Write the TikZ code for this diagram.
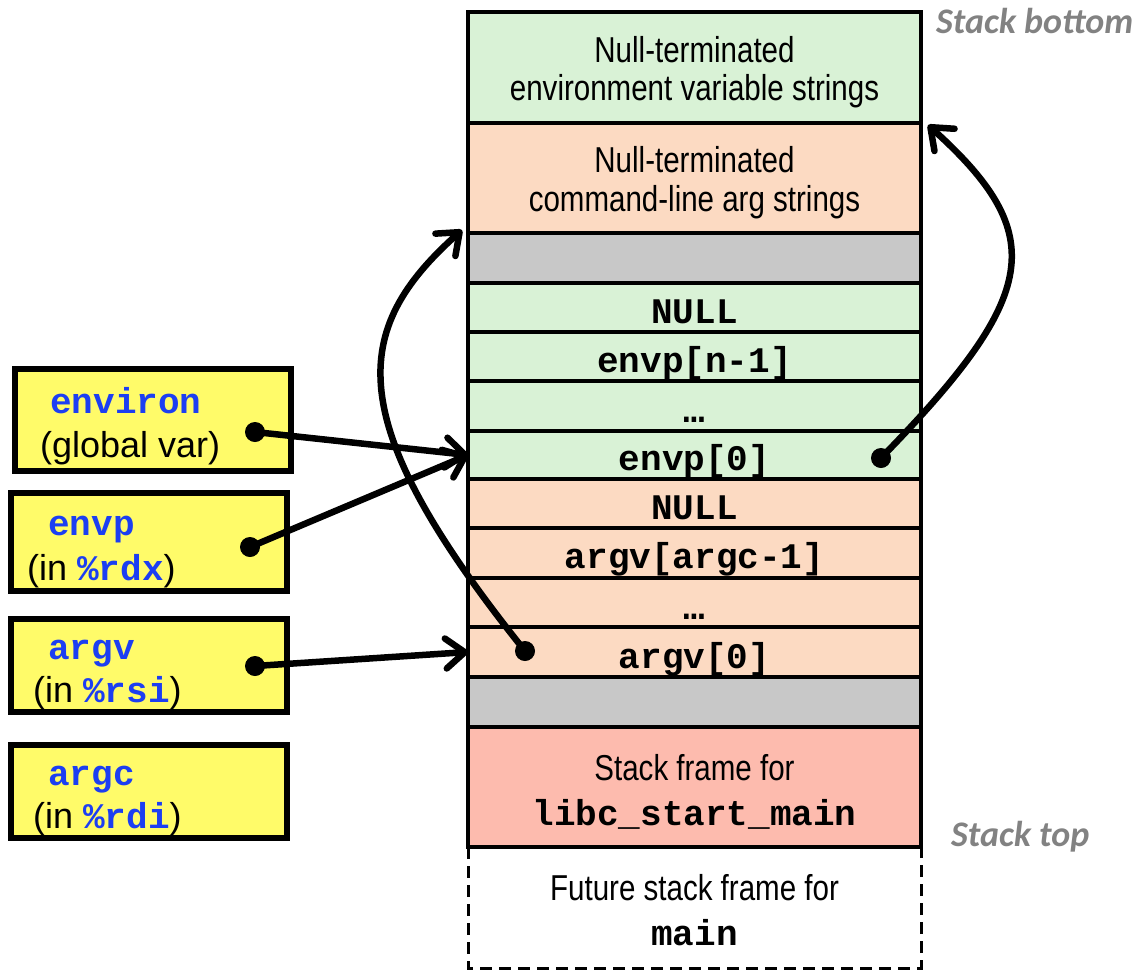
\documentclass[tikz,border=0pt]{standalone}
\usepackage{fontspec}
\setmainfont{Liberation Sans}
\setmonofont{Liberation Mono}
\newfontfamily\narrowfont[FakeStretch=0.82]{Liberation Sans}
\newfontfamily\labelfont{Carlito}
\usetikzlibrary{arrows.meta}

\definecolor{envgreen}{RGB}{217,242,214}
\definecolor{argpeach}{RGB}{252,218,194}
\definecolor{padgray}{RGB}{200,200,200}
\definecolor{framered}{RGB}{253,187,174}
\definecolor{varyellow}{RGB}{255,251,105}
\definecolor{codeblue}{RGB}{28,62,242}
\definecolor{sidegray}{RGB}{130,130,130}

\begin{document}
\begin{tikzpicture}[x=1pt,y=-1pt,
  cell/.style={draw, line width=3.5pt, minimum width=453pt, inner sep=0pt,
    outer sep=0pt, anchor=north west},
  varbox/.style={draw, line width=6pt, fill=varyellow, minimum width=276pt,
    inner sep=0pt, outer sep=0pt, anchor=north west},
  body/.style={font=\narrowfont\fontsize{36}{40}\selectfont, anchor=base, inner sep=0pt},
  cellcode/.style={font=\ttfamily\bfseries\fontsize{36}{40}\selectfont, anchor=base, inner sep=0pt},
  varname/.style={font=\ttfamily\bfseries\fontsize{36}{40}\selectfont, text=codeblue,
    anchor=base west, inner sep=0pt},
  varnote/.style={font=\fontsize{36}{40}\selectfont, anchor=base west, inner sep=0pt},
  sidelabel/.style={font=\labelfont\bfseries\itshape\fontsize{36}{40}\selectfont,
    text=sidegray, anchor=base west, inner sep=0pt},
  dot/.style={circle, fill=black, minimum size=19pt, inner sep=0pt},
  ptr/.style={line width=6.5pt, -{Straight Barb[length=19pt,width=30pt,round]}},
  futureedge/.style={line width=3pt, dash pattern=on 12pt off 7pt}
]
\useasboundingbox (0,0) rectangle (1141,970);

% future frame (dashed, open at the top)
\node[minimum width=453pt, minimum height=121pt, inner sep=0pt, outer sep=0pt,
  anchor=north west] (future) at (468,847) {};
\draw[futureedge] (future.north west) -- (future.south west)
  -- (future.south east) -- (future.north east);

% stack cells, bottom of the stack at the top
\node[cell, fill=envgreen, minimum height=111pt] (envstr) at (468,12) {};
\node[cell, fill=argpeach, minimum height=110pt] (argstr) at (468,123) {};
\node[cell, fill=padgray,  minimum height=50pt]  (padA)   at (468,233) {};
\node[cell, fill=envgreen, minimum height=49pt]  (envnull) at (468,283) {};
\node[cell, fill=envgreen, minimum height=49pt]  (envpn)   at (468,332) {};
\node[cell, fill=envgreen, minimum height=50pt]  (envdots) at (468,381) {};
\node[cell, fill=envgreen, minimum height=48pt]  (envp0)   at (468,431) {};
\node[cell, fill=argpeach, minimum height=49pt]  (argnull) at (468,479) {};
\node[cell, fill=argpeach, minimum height=50pt]  (argvn)   at (468,528) {};
\node[cell, fill=argpeach, minimum height=49pt]  (argdots) at (468,578) {};
\node[cell, fill=argpeach, minimum height=50pt]  (argv0)   at (468,627) {};
\node[cell, fill=padgray,  minimum height=50pt]  (padB)    at (468,677) {};
\node[cell, fill=framered, minimum height=120pt] (libc)    at (468,727) {};

% cell texts
\node[body] (t1) at (694.5,62)  {Null-terminated};
\node[body] (t2) at (694.5,100) {environment variable strings};
\node[body] (t3) at (694.5,172) {Null-terminated};
\node[body] (t4) at (694.5,211) {command-line arg strings};
\node[cellcode] (c1) at (694.5,323) {NULL};
\node[cellcode] (c2) at (694.5,372) {envp[n-1]};
\node[cellcode] (c3) at (694.5,422) {…};
\node[cellcode] (c4) at (694.5,470) {envp[0]};
\node[cellcode] (c5) at (694.5,519) {NULL};
\node[cellcode] (c6) at (694.5,568) {argv[argc-1]};
\node[cellcode] (c7) at (694.5,619) {…};
\node[cellcode] (c8) at (694.5,668) {argv[0]};
\node[body] (t5) at (694.5,780) {Stack frame for};
\node[cellcode] (c9) at (694.5,825) {libc\_start\_main};
\node[body] (t6) at (694.5,900) {Future stack frame for};
\node[cellcode] (c10) at (694.5,945) {main};

% side labels
\node[sidelabel] (sbottom) at (936,33) {Stack bottom};
\node[sidelabel] (stop) at (951,846) {Stack top};

% variable boxes
\node[varbox, minimum height=102pt] (bEnviron) at (15,369) {};
\node[varbox, minimum height=98pt] (bEnvp) at (11,493) {};
\node[varbox, minimum height=93pt] (bArgv) at (11,619) {};
\node[varbox, minimum height=93pt] (bArgc) at (11,745) {};

\node[varname] (nEnviron) at (50,413) {environ};
\node[varnote] (gEnviron) at (40,457) {(global var)};
\node[varname] (nEnvp) at (48,535) {envp};
\node[varnote] (gEnvp) at (27,580) {(in {\color{codeblue}\ttfamily\bfseries \%rdx})};
\node[varname] (nArgv) at (48,659) {argv};
\node[varnote] (gArgv) at (33,702) {(in {\color{codeblue}\ttfamily\bfseries \%rsi})};
\node[varname] (nArgc) at (48,785) {argc};
\node[varnote] (gArgc) at (33,828) {(in {\color{codeblue}\ttfamily\bfseries \%rdi})};

% pointer origins
\node[dot] (dEnviron) at (255,432) {};
\node[dot] (dEnvp) at (250,547) {};
\node[dot] (dArgv) at (255,666) {};
\node[dot] (dArgv0) at (525,651) {};
\node[dot] (dEnvp0) at (881,458) {};

\coordinate (argtip) at ([xshift=-6pt,yshift=3pt]argstr.south west);
\coordinate (envtip) at ([xshift=7pt,yshift=-2pt]envstr.south east);

% pointers
\draw[ptr] (dEnviron.center) -- (envp0.west);
\draw[ptr] (dEnvp.center) -- (envp0.west);
\draw[ptr] (dArgv.center) -- (argv0.west);
\draw[ptr] (dArgv0.center) .. controls (340,420) and (350,330) .. (argtip);
\draw[ptr] (dEnvp0.center) .. controls (1040,295) and (1050,235) .. (envtip);

% dots stay above the pointer lines
\fill (dEnviron) circle (10pt);
\fill (dEnvp) circle (10pt);
\fill (dArgv) circle (10pt);
\fill (dArgv0) circle (10pt);
\fill (dEnvp0) circle (10pt);
\end{tikzpicture}
\end{document}
